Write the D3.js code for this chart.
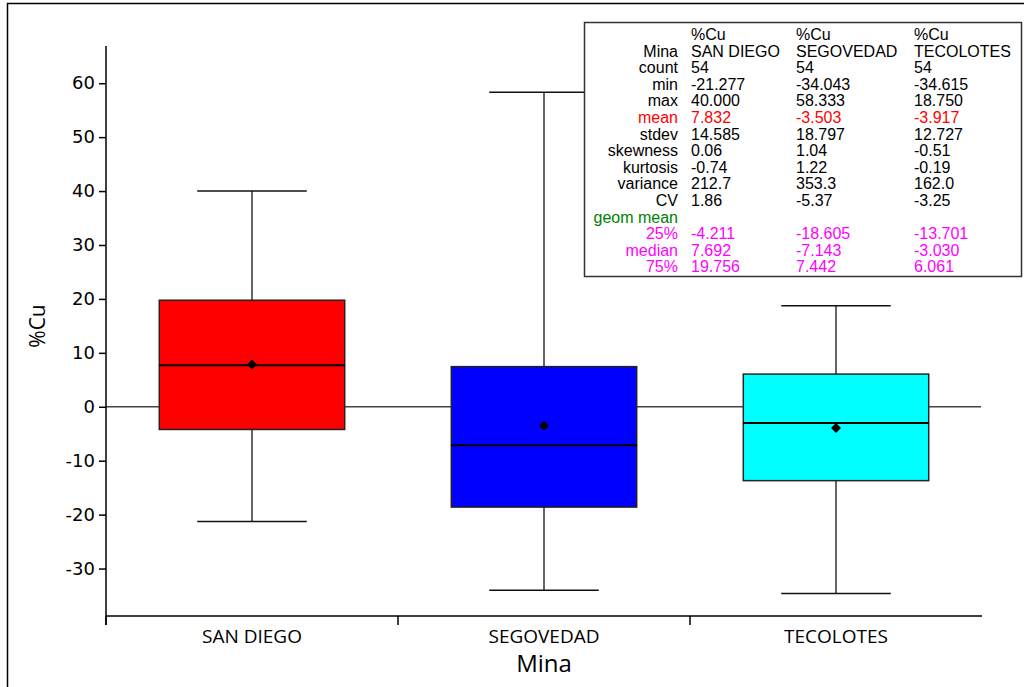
<!DOCTYPE html>
<html><head><meta charset="utf-8">
<script src="https://cdn.jsdelivr.net/npm/d3@7/dist/d3.min.js"></script>
<style>body{margin:0;background:#fff}svg{display:block}</style>
</head><body>
<svg id="c" width="1024" height="687"></svg>
<script>
const categories = ["SAN DIEGO", "SEGOVEDAD", "TECOLOTES"];
const mins    = [-21.277, -34.043, -34.615];
const q1s     = [-4.211, -18.605, -13.701];
const medians = [7.692, -7.143, -3.030];
const q3s     = [19.756, 7.442, 6.061];
const maxs    = [40.000, 58.333, 18.750];
const means   = [7.832, -3.503, -3.917];
const boxColors = ["#ff0000", "#0000ff", "#00ffff"];
const yTicks = [-30, -20, -10, 0, 10, 20, 30, 40, 50, 60];
const yDomain = [-38.8, 66.9];

const tableHeader1 = ["%Cu", "%Cu", "%Cu"];
const statLabels = ["Mina", "count", "min", "max", "mean", "stdev", "skewness", "kurtosis", "variance", "CV", "geom mean", "25%", "median", "75%"];
const statSanDiego  = ["SAN DIEGO", "54", "-21.277", "40.000", "7.832", "14.585", "0.06", "-0.74", "212.7", "1.86", "", "-4.211", "7.692", "19.756"];
const statSegovedad = ["SEGOVEDAD", "54", "-34.043", "58.333", "-3.503", "18.797", "1.04", "1.22", "353.3", "-5.37", "", "-18.605", "-7.143", "7.442"];
const statTecolotes = ["TECOLOTES", "54", "-34.615", "18.750", "-3.917", "12.727", "-0.51", "-0.19", "162.0", "-3.25", "", "-13.701", "-3.030", "6.061"];
const statColors = ["#000","#000","#000","#000","#ff0000","#000","#000","#000","#000","#000","#008000","#ff00ff","#ff00ff","#ff00ff"];

(function(){
const svg = d3.select("#c");
const pLeft = 106, pRight = 982, pTop = 46, pBottom = 616;

svg.append("path").attr("d", "M7.5,687 L7.5,3.5 L1024,3.5").attr("fill","none").attr("stroke","#000").attr("stroke-width",1.5);

const x = d3.scaleBand().domain(categories).range([pLeft, pRight]).paddingInner(0).paddingOuter(0);
const y = d3.scaleLinear().domain(yDomain).range([pBottom, pTop]);

const boxW = x.bandwidth() * 0.635;
const capW = x.bandwidth() * 0.375;

svg.append("line").attr("x1", pLeft).attr("x2", 981).attr("y1", y(0)).attr("y2", y(0))
  .attr("stroke", "#444").attr("stroke-width", 1.5);

const data = categories.map((c, i) => ({c, min: mins[i], q1: q1s[i], med: medians[i], q3: q3s[i], max: maxs[i], mean: means[i], col: boxColors[i]}));

const g = svg.append("g");
data.forEach(d => {
  const cx = x(d.c) + x.bandwidth() / 2;
  g.append("line").attr("x1", cx).attr("x2", cx).attr("y1", y(d.max)).attr("y2", y(d.q3)).attr("stroke","#333").attr("stroke-width",1.5);
  g.append("line").attr("x1", cx).attr("x2", cx).attr("y1", y(d.q1)).attr("y2", y(d.min)).attr("stroke","#333").attr("stroke-width",1.5);
  g.append("line").attr("x1", cx - capW/2).attr("x2", cx + capW/2).attr("y1", y(d.max)).attr("y2", y(d.max)).attr("stroke","#111").attr("stroke-width",1.5);
  g.append("line").attr("x1", cx - capW/2).attr("x2", cx + capW/2).attr("y1", y(d.min)).attr("y2", y(d.min)).attr("stroke","#111").attr("stroke-width",1.5);
  g.append("rect").attr("x", cx - boxW/2).attr("y", y(d.q3)).attr("width", boxW).attr("height", y(d.q1) - y(d.q3))
    .attr("fill", d.col).attr("stroke", "#222").attr("stroke-width", 1.5);
  g.append("line").attr("x1", cx - boxW/2).attr("x2", cx + boxW/2).attr("y1", y(d.med)).attr("y2", y(d.med)).attr("stroke","#000").attr("stroke-width",2);
  g.append("path").attr("transform", `translate(${cx},${y(d.mean)})`).attr("d", "M0,-5 L5,0 L0,5 L-5,0 Z").attr("fill","#000");
});

const yAxis = d3.axisLeft(y).tickValues(yTicks).tickSize(7).tickPadding(4).tickFormat(d => String(d));
const ya = svg.append("g").attr("transform", `translate(${pLeft},0)`).call(yAxis);
ya.select(".domain").remove();
ya.selectAll(".tick line").attr("stroke","#000").attr("stroke-width",1.5);
ya.selectAll("text").attr("font-family","DejaVu Sans").attr("font-size",18).attr("fill","#000");
svg.append("line").attr("x1", pLeft).attr("x2", pLeft).attr("y1", pTop).attr("y2", pBottom + 9).attr("stroke","#000").attr("stroke-width",1.5);

svg.append("line").attr("x1", pLeft).attr("x2", pRight).attr("y1", pBottom).attr("y2", pBottom).attr("stroke","#000").attr("stroke-width",1.5);
const xg = svg.append("g");
categories.forEach(c => {
  xg.append("line").attr("x1", x(c)).attr("x2", x(c)).attr("y1", pBottom).attr("y2", pBottom + 9).attr("stroke","#000").attr("stroke-width",1.5);
  xg.append("text").attr("x", x(c) + x.bandwidth()/2).attr("y", 643).attr("text-anchor","middle")
    .attr("font-family","Open Sans").attr("font-size",19).attr("fill","#000").text(c);
});
svg.append("text").attr("x", (pLeft + pRight)/2).attr("y", 672).attr("text-anchor","middle")
  .attr("font-family","Open Sans").attr("font-size",24).attr("fill","#000").text("Mina");
svg.append("text").attr("transform", "translate(45,326) rotate(-90)").attr("text-anchor","middle")
  .attr("font-family","Open Sans").attr("font-size",21).attr("fill","#000").text("%Cu");

const tb = svg.append("g");
tb.append("rect").attr("x", 584.5).attr("y", 22.5).attr("width", 437).attr("height", 254)
  .attr("fill","#fff").attr("stroke","#333").attr("stroke-width",1.5);
const rowY = i => 40 + i * 16.6;
const colX = [691, 796, 914];
const tf = "Liberation Sans", ts = 16;
tableHeader1.forEach((h, j) => tb.append("text").attr("x", colX[j]).attr("y", rowY(0)).attr("font-family",tf).attr("font-size",ts).attr("fill","#000").text(h));
const cols = [statSanDiego, statSegovedad, statTecolotes];
statLabels.forEach((lab, i) => {
  tb.append("text").attr("x", 678).attr("y", rowY(i+1)).attr("text-anchor","end")
    .attr("font-family",tf).attr("font-size",ts).attr("fill",statColors[i]).text(lab);
  cols.forEach((col, j) => {
    tb.append("text").attr("x", colX[j]).attr("y", rowY(i+1))
      .attr("font-family",tf).attr("font-size",ts).attr("fill",statColors[i]).text(col[i]);
  });
});
})();
</script>
</body></html>
